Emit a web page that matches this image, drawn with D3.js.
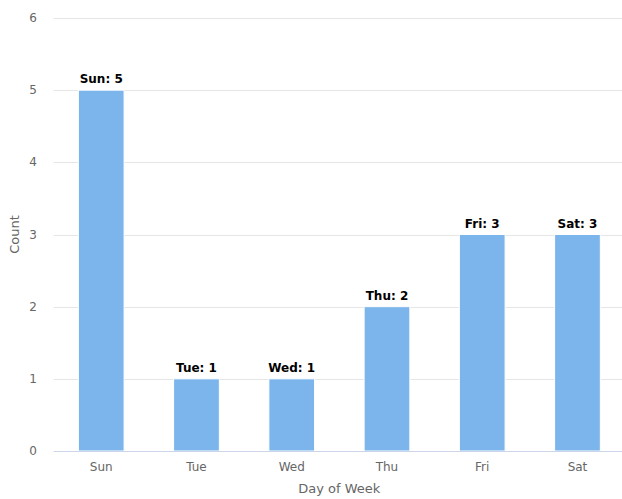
<!DOCTYPE html>
<html>
<head>
<meta charset="utf-8">
<script src="https://cdn.jsdelivr.net/npm/d3@7"></script>
<style>
  body { margin: 0; background: #fff; }
  svg { font-family: "DejaVu Sans", sans-serif; display: block; }
</style>
</head>
<body>
<div id="chart"></div>
<script>
var days = ["Sun", "Tue", "Wed", "Thu", "Fri", "Sat"];
var counts = [5, 1, 1, 2, 3, 3];
var yTicks = [0, 1, 2, 3, 4, 5, 6];

var W = 622, H = 499;
var plotLeft = 53.6, plotRight = 625.1, plotTop = 18, plotBottom = 451;

var svg = d3.select("#chart").append("svg")
    .attr("width", W)
    .attr("height", H);

var x = d3.scaleBand()
    .domain(days)
    .range([plotLeft, plotRight])
    .paddingInner(0.52)
    .paddingOuter(0.26);

var y = d3.scaleLinear()
    .domain([0, 6])
    .range([plotBottom, plotTop]);

// gridlines
svg.append("g").selectAll("line")
    .data(yTicks.slice(1))
  .enter().append("line")
    .attr("x1", plotLeft).attr("x2", plotRight)
    .attr("y1", function(d) { return Math.round(y(d)) + 0.5; })
    .attr("y2", function(d) { return Math.round(y(d)) + 0.5; })
    .attr("stroke", "#e6e6e6");

// y labels
svg.append("g").selectAll("text")
    .data(yTicks)
  .enter().append("text")
    .attr("x", 37)
    .attr("y", function(d) { return y(d) + 4; })
    .attr("text-anchor", "end")
    .attr("font-size", 12)
    .attr("fill", "#666")
    .text(function(d) { return d; });

// bars
svg.append("g").selectAll("rect")
    .data(counts)
  .enter().append("rect")
    .attr("x", function(d, i) { return x(days[i]); })
    .attr("width", x.bandwidth())
    .attr("y", function(d) { return y(d); })
    .attr("height", function(d) { return plotBottom - y(d); })
    .attr("fill", "#7cb5ec")
    .attr("stroke", "#fff")
    .attr("stroke-width", 1);

// x axis line
svg.append("line")
    .attr("x1", plotLeft).attr("x2", plotRight)
    .attr("y1", plotBottom + 0.5).attr("y2", plotBottom + 0.5)
    .attr("stroke", "#ccd6eb");

// x labels
svg.append("g").selectAll("text")
    .data(days)
  .enter().append("text")
    .attr("x", function(d) { return x(d) + x.bandwidth() / 2; })
    .attr("y", 471)
    .attr("text-anchor", "middle")
    .attr("font-size", 12)
    .attr("fill", "#666")
    .text(function(d) { return d; });

// data labels
svg.append("g").selectAll("text")
    .data(counts)
  .enter().append("text")
    .attr("x", function(d, i) { return x(days[i]) + x.bandwidth() / 2; })
    .attr("y", function(d) { return y(d) - 7; })
    .attr("text-anchor", "middle")
    .attr("font-size", 12)
    .attr("font-weight", "bold")
    .attr("fill", "#000")
    .attr("stroke", "#fff")
    .attr("stroke-width", 2)
    .attr("paint-order", "stroke")
    .text(function(d, i) { return days[i] + ": " + d; });

// axis titles
svg.append("text")
    .attr("x", (plotLeft + plotRight) / 2)
    .attr("y", 493)
    .attr("text-anchor", "middle")
    .attr("font-size", 13)
    .attr("fill", "#666")
    .text("Day of Week");

svg.append("text")
    .attr("transform", "translate(19," + ((plotTop + plotBottom) / 2) + ") rotate(-90)")
    .attr("text-anchor", "middle")
    .attr("font-size", 13)
    .attr("fill", "#666")
    .text("Count");
</script>
</body>
</html>
